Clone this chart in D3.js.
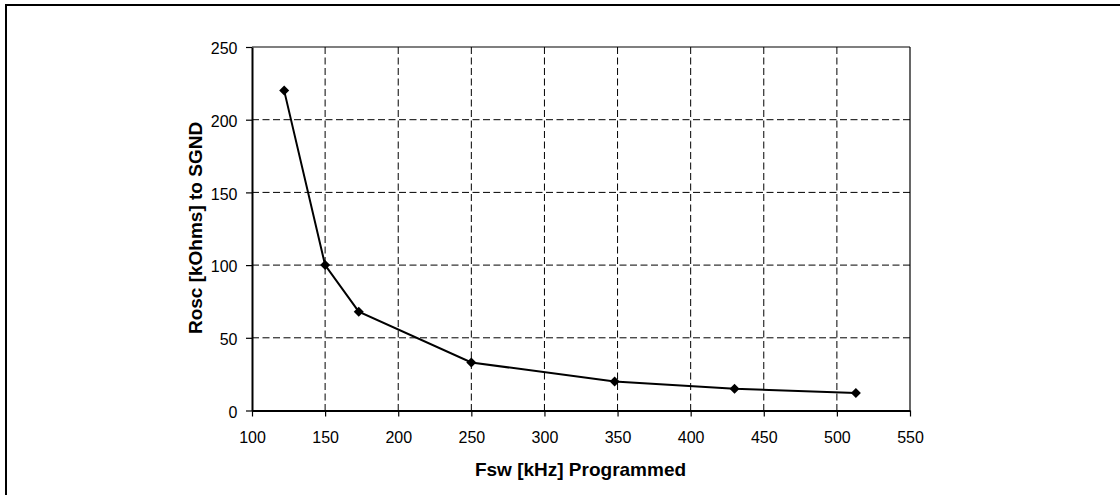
<!DOCTYPE html>
<html><head><meta charset="utf-8">
<script src="https://cdn.jsdelivr.net/npm/d3@7"></script>
<style>body{margin:0;background:#fff}svg{display:block}</style>
</head><body>
<svg id="c" width="1120" height="495"></svg>
<script>
const fsw = [122, 150, 173, 250, 348, 430, 513];
const rosc = [220, 100, 68, 33, 20, 15, 12];
const xTicks = [100,150,200,250,300,350,400,450,500,550];
const yTicks = [0,50,100,150,200,250];
const xTitle = "Fsw [kHz] Programmed";
const yTitle = "Rosc [kOhms] to SGND";

const svg = d3.select("#c");
const font = "Liberation Sans, Arial, sans-serif";
svg.append("rect").attr("x",6).attr("y",5).attr("width",1200).attr("height",600)
  .attr("fill","none").attr("stroke","#000").attr("stroke-width",2);

const L=252,R=910,T=47,B=410.5;
const x = d3.scaleLinear().domain([100,550]).range([L,R]);
const y = d3.scaleLinear().domain([0,250]).range([B,T]);

const g = svg.append("g");
// gridlines
g.selectAll(".vg").data(xTicks.slice(1,-1)).join("line")
  .attr("x1",d=>x(d)).attr("x2",d=>x(d)).attr("y1",T).attr("y2",B)
  .attr("stroke","#000").attr("stroke-width",1).attr("stroke-dasharray","7,3.5");
g.selectAll(".hg").data(yTicks.slice(1,-1)).join("line")
  .attr("x1",L).attr("x2",R).attr("y1",d=>y(d)).attr("y2",d=>y(d))
  .attr("stroke","#000").attr("stroke-width",1).attr("stroke-dasharray","7,3.5");
// frame top/right
g.append("line").attr("x1",L).attr("x2",R).attr("y1",T).attr("y2",T).attr("stroke","#000").attr("stroke-width",1.2);
g.append("line").attr("x1",R).attr("x2",R).attr("y1",T).attr("y2",B).attr("stroke","#000").attr("stroke-width",1.2);

// axes
const xAxis = d3.axisBottom(x).tickValues(xTicks).tickSize(6).tickPadding(15).tickSizeOuter(0);
const yAxis = d3.axisLeft(y).tickValues(yTicks).tickSize(6).tickPadding(8.5).tickSizeOuter(0);
const gx = svg.append("g").attr("transform",`translate(0,${B})`).call(xAxis);
const gy = svg.append("g").attr("transform",`translate(${L},0)`).call(yAxis);
[gx,gy].forEach(a=>{
  a.select(".domain").attr("stroke","#000").attr("stroke-width",2);
  a.selectAll(".tick line").attr("stroke","#000").attr("stroke-width",1.2);
  a.selectAll(".tick text").attr("fill","#000").style("font-family",font).style("font-size","16px");
});
gy.selectAll(".tick text").attr("dy","0.42em");

// line
const pts = fsw.map((f,i)=>[f,rosc[i]]);
svg.append("path").datum(pts)
  .attr("d",d3.line().x(d=>x(d[0])).y(d=>y(d[1])))
  .attr("fill","none").attr("stroke","#000").attr("stroke-width",2);
svg.selectAll(".m").data(pts).join("path")
  .attr("transform",d=>`translate(${x(d[0])},${y(d[1])})`)
  .attr("d","M0,-5L5,0L0,5L-5,0Z").attr("fill","#000");

// titles
svg.append("text").attr("x",580.5).attr("y",476).attr("text-anchor","middle")
  .style("font-family",font).style("font-size","19px").style("font-weight","bold").text(xTitle);
svg.append("text").attr("transform",`translate(202,228) rotate(-90)`).attr("text-anchor","middle")
  .style("font-family",font).style("font-size","19px").style("font-weight","bold").text(yTitle);
</script>
</body></html>
